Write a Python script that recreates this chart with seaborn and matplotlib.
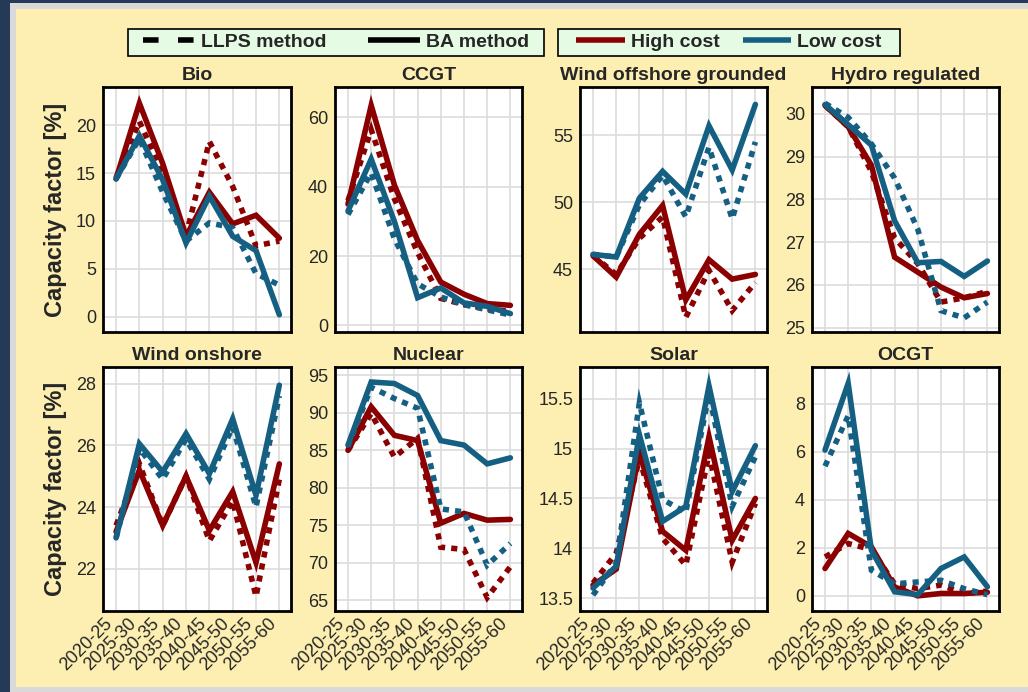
import numpy as np
import pandas as pd
import matplotlib
matplotlib.use('Agg')
import matplotlib.pyplot as plt
import seaborn as sns
from matplotlib.lines import Line2D
from matplotlib.patches import Rectangle
from matplotlib.ticker import FuncFormatter

# ---------------- data ----------------
periods = ['2020-25', '2025-30', '2030-35', '2035-40',
           '2040-45', '2045-50', '2050-55', '2055-60']
costs = ['High cost', 'Low cost']
methods = ['LLPS method', 'BA method']
cost_colors = ['#8b0000', '#156082']

bio_high_ba = [14.4, 22.3, 16.0, 8.4, 13.0, 9.7, 10.6, 8.2]
bio_high_llps = [14.5, 20.4, 15.0, 8.5, 18.3, 13.6, 7.4, 7.9]
bio_low_ba = [14.4, 18.9, 14.3, 7.7, 12.6, 8.4, 6.9, 0.2]
bio_low_llps = [14.4, 18.6, 13.0, 7.9, 9.8, 9.3, 4.5, 3.3]

ccgt_high_ba = [35.0, 63.5, 40.5, 24.5, 12.5, 9.0, 6.3, 5.8]
ccgt_high_llps = [36.0, 56.5, 36.5, 21.0, 7.8, 6.0, 4.8, 4.0]
ccgt_low_ba = [33.0, 48.0, 30.0, 8.0, 10.8, 6.5, 5.5, 3.4]
ccgt_low_llps = [32.0, 44.0, 25.0, 12.0, 8.2, 6.0, 4.5, 3.0]

woff_high_ba = [46.0, 44.4, 47.6, 49.75, 42.7, 45.7, 44.25, 44.6]
woff_high_llps = [46.0, 44.6, 47.3, 48.9, 41.4, 44.9, 41.9, 44.0]
woff_low_ba = [46.1, 45.9, 50.3, 52.3, 50.6, 55.7, 52.4, 57.3]
woff_low_llps = [46.1, 45.9, 49.8, 52.0, 48.9, 54.1, 48.75, 54.5]

hydro_high_ba = [30.2, 29.7, 28.8, 26.65, 26.3, 25.95, 25.7, 25.8]
hydro_high_llps = [30.2, 29.7, 28.65, 27.1, 26.5, 25.6, 25.7, 25.85]
hydro_low_ba = [30.22, 29.75, 29.27, 27.5, 26.52, 26.55, 26.2, 26.56]
hydro_low_llps = [30.25, 29.92, 29.3, 28.5, 27.3, 25.4, 25.23, 25.6]

won_high_ba = [23.2, 25.2, 23.4, 25.0, 23.24, 24.5, 22.2, 25.4]
won_high_llps = [23.4, 25.4, 23.4, 25.0, 22.9, 24.2, 21.1, 24.9]
won_low_ba = [23.0, 26.05, 25.14, 26.38, 25.08, 26.86, 24.38, 27.95]
won_low_llps = [23.0, 25.9, 24.9, 26.2, 24.9, 26.6, 24.0, 27.6]

nuc_high_ba = [85.0, 90.8, 87.0, 86.3, 75.3, 76.6, 75.7, 75.8]
nuc_high_llps = [85.0, 89.9, 84.1, 86.6, 72.1, 71.8, 65.4, 69.5]
nuc_low_ba = [85.7, 94.1, 93.9, 92.3, 86.3, 85.7, 83.2, 84.0]
nuc_low_llps = [85.5, 93.4, 91.9, 90.6, 77.2, 76.8, 69.7, 72.6]

sol_high_ba = [13.63, 13.79, 14.96, 14.17, 13.98, 15.12, 14.08, 14.5]
sol_high_llps = [13.65, 13.95, 14.9, 14.1, 13.83, 14.95, 13.86, 14.45]
sol_low_ba = [13.6, 13.82, 15.14, 14.27, 14.42, 15.63, 14.57, 15.03]
sol_low_llps = [13.53, 13.85, 15.46, 14.49, 14.36, 15.55, 14.42, 14.92]

ocgt_high_ba = [1.14, 2.6, 2.04, 0.37, 0.0, 0.1, 0.1, 0.15]
ocgt_high_llps = [1.62, 2.18, 1.93, 0.5, 0.3, 0.45, 0.1, 0.2]
ocgt_low_ba = [6.07, 8.85, 1.9, 0.17, 0.05, 1.14, 1.62, 0.38]
ocgt_low_llps = [5.4, 7.5, 1.07, 0.5, 0.58, 0.65, 0.3, 0.05]

titles = ['Bio', 'CCGT', 'Wind offshore grounded', 'Hydro regulated',
          'Wind onshore', 'Nuclear', 'Solar', 'OCGT']
series = [
    (bio_high_llps, bio_high_ba, bio_low_llps, bio_low_ba),
    (ccgt_high_llps, ccgt_high_ba, ccgt_low_llps, ccgt_low_ba),
    (woff_high_llps, woff_high_ba, woff_low_llps, woff_low_ba),
    (hydro_high_llps, hydro_high_ba, hydro_low_llps, hydro_low_ba),
    (won_high_llps, won_high_ba, won_low_llps, won_low_ba),
    (nuc_high_llps, nuc_high_ba, nuc_low_llps, nuc_low_ba),
    (sol_high_llps, sol_high_ba, sol_low_llps, sol_low_ba),
    (ocgt_high_llps, ocgt_high_ba, ocgt_low_llps, ocgt_low_ba),
]
yticks = [
    [0, 5, 10, 15, 20],
    [0, 20, 40, 60],
    [45, 50, 55],
    [25, 26, 27, 28, 29, 30],
    [22, 24, 26, 28],
    [65, 70, 75, 80, 85, 90, 95],
    [13.5, 14, 14.5, 15, 15.5],
    [0, 2, 4, 6, 8],
]
ylims = [(-1.6, 24.0), (-1.9, 68.8), (40.3, 58.6), (24.9, 30.63),
         (20.63, 28.54), (63.6, 96.1), (13.37, 15.82), (-0.63, 9.53)]

# ---------------- style ----------------
sns.set_style('white')
plt.rcParams['font.family'] = ['Liberation Sans', 'DejaVu Sans']
plt.rcParams['lines.solid_joinstyle'] = 'miter'
plt.rcParams['lines.dash_joinstyle'] = 'miter'

W, H = 1028, 692
fig = plt.figure(figsize=(W / 100, H / 100), dpi=100, facecolor='#243a56')

# page-like background frame
fig.add_artist(Rectangle((10 / W, 0), 1 - 10 / W, 1 - 3 / H, transform=fig.transFigure,
                         facecolor='#d9d9d9', edgecolor='none', zorder=-3))
fig.add_artist(Rectangle((16 / W, 5 / H), 1 - 16 / W, (687 - 9) / H, transform=fig.transFigure,
                         facecolor='#fdefb2', edgecolor='none', zorder=-2))


def px_axes(x0, y0, x1, y1):
    return [x0 / W, 1 - y1 / H, (x1 - x0) / W, (y1 - y0) / H]


col_x = [(103, 291), (335, 522), (580, 767), (812, 999)]
row_y = [(87, 332), (367, 611)]

palette = dict(zip(costs, cost_colors))
dashes = {'BA method': '', 'LLPS method': (1.1, 1.1)}

for i, (title, ser) in enumerate(zip(titles, series)):
    r, c = divmod(i, 4)
    x0, x1 = col_x[c]
    y0, y1 = row_y[r]
    ax = fig.add_axes(px_axes(x0, y0, x1, y1))
    df = pd.DataFrame({
        'period': periods * 4,
        'cf': np.concatenate(ser),
        'cost': [costs[0]] * 16 + [costs[1]] * 16,
        'method': ([methods[0]] * 8 + [methods[1]] * 8) * 2,
    })
    sns.lineplot(data=df, x='period', y='cf', hue='cost', style='method',
                 hue_order=costs, style_order=['BA method', 'LLPS method'],
                 palette=palette, dashes=dashes, linewidth=4,
                 estimator=None, sort=False, legend=False, ax=ax)
    ax.set_facecolor('white')
    for sp in ax.spines.values():
        sp.set_visible(True)
        sp.set_linewidth(2)
        sp.set_color('black')
    ax.grid(True, color='#dcdcdc', linewidth=1.2)
    ax.set_axisbelow(True)
    ax.set_xlim(-0.56, 7.5)
    ax.set_ylim(*ylims[i])
    ax.set_yticks(yticks[i])
    ax.yaxis.set_major_formatter(FuncFormatter(lambda v, p: f'{v:g}'))
    ax.set_xticks(range(len(periods)))
    ax.tick_params(length=0, labelsize=13, pad=5)
    if r == 1:
        ax.set_xticklabels(periods, rotation=45, ha='right')
        ax.tick_params(axis='x', pad=3)
    else:
        ax.tick_params(axis='x', labelbottom=False)
    ax.set_xlabel('')
    if c == 0:
        ax.set_ylabel('Capacity factor [%]', fontsize=17, fontweight='bold')
        ax.yaxis.set_label_coords(-0.19, 0.5)
    else:
        ax.set_ylabel('')
    ax.set_title(title, fontsize=14, fontweight='bold', pad=5)

# ---------------- legends ----------------
box_kw = dict(transform=fig.transFigure, facecolor='#e6fbe3', edgecolor='black',
              linewidth=1.2, zorder=4)
fig.add_artist(Rectangle((128 / W, 1 - 56 / H), (544 - 128) / W, 27 / H, **box_kw))
fig.add_artist(Rectangle((558 / W, 1 - 56 / H), (900 - 558) / W, 27 / H, **box_kw))

leg_kw = dict(loc='center', ncol=2, frameon=False,
              handletextpad=0.3, borderpad=0.1,
              prop={'weight': 'bold', 'size': 14})
h1 = [Line2D([], [], color='black', lw=4, dashes=(2.8, 3.5)),
      Line2D([], [], color='black', lw=4, solid_capstyle='butt')]
l1 = fig.legend(h1, methods, bbox_to_anchor=(336 / W, 1 - 42.5 / H),
                handlelength=2.7, columnspacing=2.1, **leg_kw)
l1.set_zorder(5)
h2 = [Line2D([], [], color=cc, lw=4, solid_capstyle='butt') for cc in cost_colors]
l2 = fig.legend(h2, costs, bbox_to_anchor=(729 / W, 1 - 42.5 / H),
                handlelength=2.5, columnspacing=1.2, **leg_kw)
l2.set_zorder(5)

fig.savefig('out.png', dpi=100, facecolor=fig.get_facecolor())
